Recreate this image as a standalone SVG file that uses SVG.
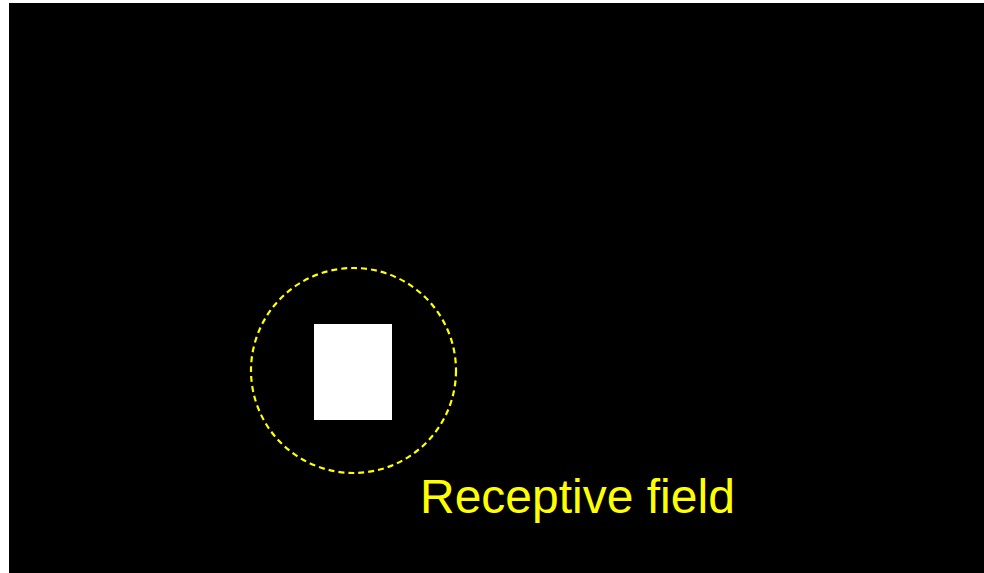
<svg xmlns="http://www.w3.org/2000/svg" width="984" height="573" viewBox="0 0 984 573">
<style>
.label{font-family:"Liberation Sans",Arial,sans-serif;font-size:48px;fill:#ffff00}
</style>
<rect x="0" y="0" width="984" height="573" fill="#ffffff"/>
<rect x="9" y="3" width="975" height="570" fill="#000000"/>
<g id="receptive-field">
<circle cx="353.5" cy="370.5" r="102.5" fill="none" stroke="#ffff00" stroke-width="2.2" stroke-dasharray="6 4"/>
</g>
<g id="stimulus">
<rect x="314" y="324" width="78" height="96" fill="#ffffff"/>
</g>
<g id="label">
<text class="label" x="420" y="513">Receptive field</text>
</g>
</svg>
